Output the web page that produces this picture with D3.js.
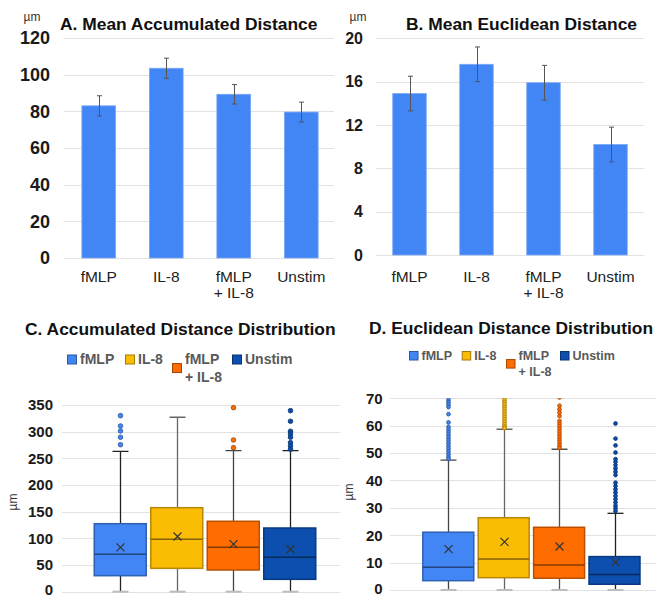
<!DOCTYPE html>
<html>
<head>
<meta charset="utf-8">
<script src="https://cdn.jsdelivr.net/npm/d3@7"></script>
<style>
  body { margin: 0; background: #fff; }
  svg { display: block; font-family: "Liberation Sans", Arial, sans-serif; }
</style>
</head>
<body>
<svg id="chart" width="656" height="597"></svg>
<script>
// ---- data ----
const categories = ["fMLP", "IL-8", "fMLP + IL-8", "Unstim"];
const seriesColors = ["#4285F4", "#FBBC04", "#FF6D01", "#0D4FAF"];

// mean distances (µm) with error bars
const meanAccum = [83, 103.5, 89.3, 79.6];
const errAccum = [5.5, 5.5, 5.3, 5.4];
const meanEucl = [14.9, 17.6, 15.9, 10.2];
const errEucl = [1.6, 1.6, 1.6, 1.6];

const accumTicks = [0, 20, 40, 60, 80, 100, 120];
const euclTicks = [0, 4, 8, 12, 16, 20];
const accumBoxTicks = [0, 50, 100, 150, 200, 250, 300, 350];
const euclBoxTicks = [0, 10, 20, 30, 40, 50, 60, 70];

// accumulated distance distribution
const accumQ1 = [30, 43.8, 40.7, 23.2];
const accumMedian = [70, 98.2, 83.2, 64.5];
const accumQ3 = [127.5, 157.5, 132, 119.4];
const accumLow = [0, 0, 0, 0];
const accumHigh = [263, 327, 264.4, 264.4];
const accumOutliers = [
  [330, 310.7, 301.3, 289.5, 275.6],
  [],
  [345, 284.4, 270],
  [339.4, 319.5, 300.7, 295.7, 289.5, 279.4, 273.2, 267]
];

// euclidean distance distribution
const euclQ1 = [3.4, 4.5, 4.3, 2.1];
const euclMedian = [8.3, 11.3, 9.1, 5.7];
const euclQ3 = [21.1, 26.4, 22.9, 12.2];
const euclLow = [0, 0, 0, 0];
const euclHigh = [47.4, 58.7, 51.4, 28];
const euclOutliers = [
  [69.5, 68.6, 67.7, 66.8, 64.2, 61.2, 59.6, 58.6, 57.6, 56.6, 55.6, 54.6, 53.6, 52.6, 51.6, 50.6, 49.6, 48.6, 47.9],
  [70.2, 69.4, 68.6, 67.7, 66.8, 65.9, 65, 64.1, 63.2, 62.3, 61.4, 60.5, 59.7, 59.1],
  [70.3, 67.3, 66, 64.8, 63.5, 61.7, 60.7, 59.7, 58.7, 57.7, 56.7, 55.7, 54.7, 53.7, 52.7, 51.9],
  [60.8, 55.3, 52.8, 50.2, 47.8, 46.8, 45.6, 44.4, 43.2, 42, 39.2, 38, 36.8, 35.6, 34.4, 33.2, 32, 30.8, 29.8, 28.8]
];

// ---- drawing ----
const svg = d3.select("#chart");
const FONT = '"Liberation Sans", Arial, sans-serif';

function labelLines(cat) {
  const parts = cat.split(" + ");
  return parts.length > 1 ? [parts[0], "+ " + parts[1]] : [cat];
}

function gridAndTicks(g, y, ticks, cfg) {
  g.append("g").selectAll("line").data(ticks).join("line")
    .attr("x1", cfg.gridX[0]).attr("x2", cfg.gridX[1])
    .attr("y1", d => Math.round(y(d)) + 0.5).attr("y2", d => Math.round(y(d)) + 0.5)
    .attr("stroke", "#e2e2e2").attr("stroke-width", 1);

  const ay = g.append("g")
    .attr("transform", `translate(${cfg.tickX},0)`)
    .call(d3.axisLeft(y).tickValues(ticks).tickSize(0).tickPadding(0));
  ay.select(".domain").remove();
  ay.attr("font-family", FONT).attr("font-size", cfg.tickSize);
  ay.selectAll("text").attr("font-weight", "bold").attr("fill", "#1a1a1a");
  // keep the lowest label inside the bottom edge
  if (cfg.zeroLift) {
    ay.selectAll(".tick").filter(d => d === 0).select("text")
      .attr("transform", `translate(0,${-cfg.zeroLift})`);
  }
}

function drawBars(cfg) {
  const g = svg.append("g");
  const x = d3.scaleBand().domain(categories).range(cfg.xRange)
    .paddingInner(0.5).paddingOuter(0.25);
  const y = d3.scaleLinear().domain(cfg.yDomain).range(cfg.yRange);

  gridAndTicks(g, y, cfg.ticks, cfg);

  g.append("text").attr("x", cfg.unit[0]).attr("y", cfg.unit[1])
    .attr("text-anchor", "middle").attr("font-size", 12).attr("fill", "#333").text("µm");

  g.append("text").attr("x", cfg.title[0]).attr("y", cfg.title[1])
    .attr("font-size", 17.4).attr("font-weight", "bold").attr("fill", "#111").text(cfg.titleText);

  g.append("g").selectAll("rect").data(categories).join("rect")
    .attr("x", d => x(d)).attr("width", x.bandwidth())
    .attr("y", (d, i) => y(cfg.values[i]))
    .attr("height", (d, i) => y(0) - y(cfg.values[i]))
    .attr("fill", "#4285F4").attr("stroke", "#7aa7f6").attr("stroke-width", 0.8);

  const eb = g.append("g").attr("stroke", "#555").attr("stroke-width", 1);
  categories.forEach((c, i) => {
    const cx = Math.round(x(c) + x.bandwidth() / 2) + 0.5;
    const hi = y(cfg.values[i] + cfg.errors[i]);
    const lo = y(cfg.values[i] - cfg.errors[i]);
    eb.append("line").attr("x1", cx).attr("x2", cx).attr("y1", hi).attr("y2", lo);
    eb.append("line").attr("x1", cx - 2.5).attr("x2", cx + 2.5).attr("y1", hi).attr("y2", hi);
    eb.append("line").attr("x1", cx - 2.5).attr("x2", cx + 2.5).attr("y1", lo).attr("y2", lo);
  });

  categories.forEach(c => {
    const t = g.append("text").attr("x", x(c) + x.bandwidth() / 2).attr("y", cfg.labelY)
      .attr("text-anchor", "middle").attr("font-size", cfg.labelSize).attr("fill", "#222");
    labelLines(c).forEach((ln, k) => {
      t.append("tspan").attr("x", x(c) + x.bandwidth() / 2).attr("dy", k === 0 ? 0 : cfg.labelSize * 1.05).text(ln);
    });
  });
}

function drawBoxes(cfg) {
  const g = svg.append("g");
  const x = d3.scaleBand().domain(categories).range(cfg.xRange)
    .paddingInner(0.08).paddingOuter(0.04);
  const y = d3.scaleLinear().domain(cfg.yDomain).range(cfg.yRange);

  gridAndTicks(g, y, cfg.ticks, cfg);

  g.append("text").attr("transform", `translate(${cfg.unit[0]},${cfg.unit[1]}) rotate(-90)`)
    .attr("text-anchor", "middle").attr("font-size", 12).attr("fill", "#333").text("µm");

  g.append("text").attr("x", cfg.title[0]).attr("y", cfg.title[1])
    .attr("font-size", 17.4).attr("font-weight", "bold").attr("fill", "#111").text(cfg.titleText);

  // legend
  const lg = g.append("g").attr("font-size", cfg.legend.size).attr("font-weight", "bold").attr("fill", "#595959");
  categories.forEach((c, i) => {
    const lines = labelLines(c);
    const sx = cfg.legend.x[i];
    const sy = lines.length > 1 ? cfg.legend.y + cfg.legend.sq * 0.95 : cfg.legend.y;
    lg.append("rect").attr("x", sx + 0.5).attr("y", sy + 0.5)
      .attr("width", cfg.legend.sq).attr("height", cfg.legend.sq)
      .attr("fill", seriesColors[i]).attr("stroke", d3.color(seriesColors[i]).darker(1.2)).attr("stroke-width", 1);
    const tx = sx + cfg.legend.sq + cfg.legend.gap;
    lines.forEach((ln, k) => {
      lg.append("text").attr("x", tx).attr("y", cfg.legend.y + cfg.legend.sq + k * cfg.legend.lineH)
        .text(ln);
    });
  });

  const clipId = cfg.id + "-clip";
  g.append("clipPath").attr("id", clipId).append("rect")
    .attr("x", cfg.gridX[0]).attr("y", cfg.yRange[1])
    .attr("width", cfg.gridX[1] - cfg.gridX[0]).attr("height", cfg.yRange[0] - cfg.yRange[1] + 6);
  const plot = g.append("g").attr("clip-path", `url(#${clipId})`);

  categories.forEach((c, i) => {
    const cx = Math.round(x(c) + x.bandwidth() / 2) + 0.5;
    const col = seriesColors[i];
    const edge = d3.color(col).darker(0.9).formatHex();
    const wc = cfg.whiskerColors[i];

    // whiskers
    plot.append("line").attr("x1", cx).attr("x2", cx)
      .attr("y1", y(cfg.q3[i])).attr("y2", y(cfg.high[i])).attr("stroke", wc).attr("stroke-width", 1.3);
    plot.append("line").attr("x1", cx).attr("x2", cx)
      .attr("y1", y(cfg.q1[i])).attr("y2", y(cfg.low[i])).attr("stroke", wc).attr("stroke-width", 1.3);
    plot.append("line").attr("x1", cx - 8).attr("x2", cx + 8)
      .attr("y1", y(cfg.high[i])).attr("y2", y(cfg.high[i])).attr("stroke", wc).attr("stroke-width", 1.3);
    plot.append("line").attr("x1", cx - 8).attr("x2", cx + 8)
      .attr("y1", y(cfg.low[i])).attr("y2", y(cfg.low[i])).attr("stroke", "#bdbdbd").attr("stroke-width", 2);

    // box
    plot.append("rect").attr("x", x(c)).attr("width", x.bandwidth())
      .attr("y", y(cfg.q3[i])).attr("height", y(cfg.q1[i]) - y(cfg.q3[i]))
      .attr("fill", col).attr("stroke", edge).attr("stroke-width", 1.5);
    plot.append("line").attr("x1", x(c)).attr("x2", x(c) + x.bandwidth())
      .attr("y1", y(cfg.median[i])).attr("y2", y(cfg.median[i]))
      .attr("stroke", d3.color(col).darker(1.8)).attr("stroke-width", 1.5);

    // mean marker
    const my = y(cfg.mean[i]);
    plot.append("path").attr("d", `M${cx - 4},${my - 4}L${cx + 4},${my + 4}M${cx - 4},${my + 4}L${cx + 4},${my - 4}`)
      .attr("stroke", "#333").attr("stroke-width", 1.2).attr("fill", "none");

    // outliers
    plot.append("g").selectAll("circle").data(cfg.outliers[i]).join("circle")
      .attr("cx", cx).attr("cy", d => y(d)).attr("r", cfg.dotR)
      .attr("fill", col).attr("stroke", d3.color(col).darker(1.3)).attr("stroke-width", 0.8);
  });
}

drawBars({
  xRange: [65, 335], yDomain: [0, 120], yRange: [258, 38], ticks: accumTicks,
  values: meanAccum, errors: errAccum,
  gridX: [64, 334], tickX: 50, tickSize: 18,
  unit: [32, 21], title: [60, 30], titleText: "A. Mean Accumulated Distance",
  labelY: 282, labelSize: 15.5
});

drawBars({
  xRange: [376, 644], yDomain: [0, 20], yRange: [255, 38.3], ticks: euclTicks,
  values: meanEucl, errors: errEucl,
  gridX: [376, 644], tickX: 363, tickSize: 16,
  unit: [358, 21], title: [406, 30], titleText: "B. Mean Euclidean Distance",
  labelY: 282, labelSize: 15.5
});

drawBoxes({
  id: "accum", xRange: [92, 318], yDomain: [0, 350], yRange: [591.7, 405], ticks: accumBoxTicks,
  q1: accumQ1, median: accumMedian, q3: accumQ3, low: accumLow, high: accumHigh,
  mean: meanAccum, outliers: accumOutliers,
  whiskerColors: ["#222", "#666", "#444", "#222"],
  gridX: [62, 340], tickX: 53, tickSize: 15, unit: [17, 502], zeroLift: 2,
  title: [25, 335], titleText: "C. Accumulated Distance Distribution",
  legend: { x: [67, 125, 172, 232], y: 354.5, sq: 9, gap: 4, lineH: 18, size: 14 },
  dotR: 2.3
});

drawBoxes({
  id: "eucl", xRange: [420.6, 642.2], yDomain: [0, 70], yRange: [590, 398.3], ticks: euclBoxTicks,
  q1: euclQ1, median: euclMedian, q3: euclQ3, low: euclLow, high: euclHigh,
  mean: meanEucl, outliers: euclOutliers,
  whiskerColors: ["#444", "#666", "#555", "#222"],
  gridX: [390, 656], tickX: 382.7, tickSize: 15, unit: [353, 492], zeroLift: 1,
  title: [369, 334], titleText: "D. Euclidean Distance Distribution",
  legend: { x: [409, 461.7, 506, 560], y: 351, sq: 8.5, gap: 4, lineH: 16, size: 12.5 },
  dotR: 1.9
});
</script>
</body>
</html>
